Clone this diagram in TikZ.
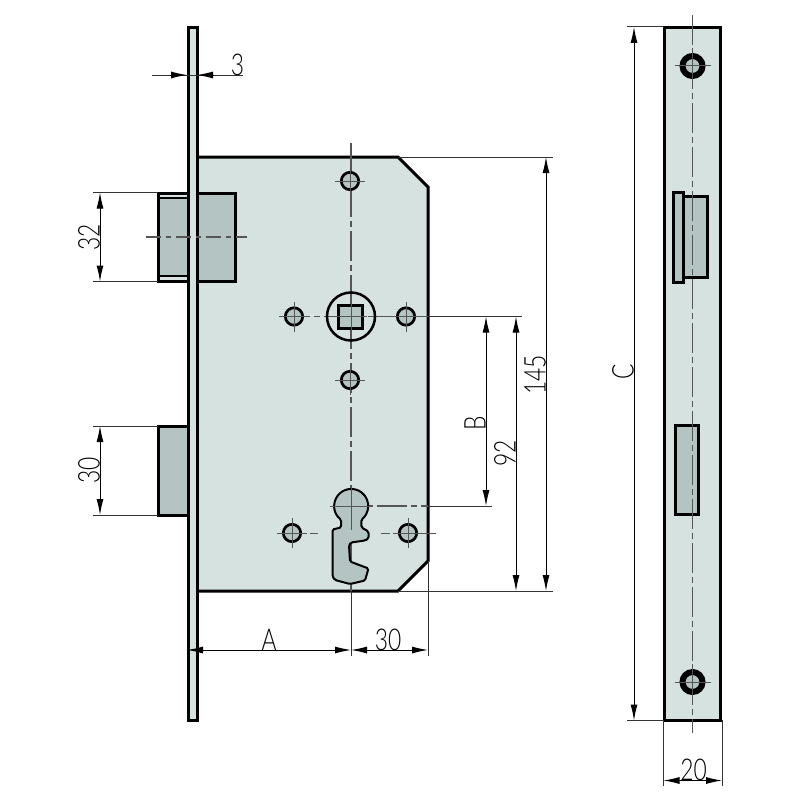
\documentclass[tikz,border=0pt]{standalone}
\usepackage{fontspec}
\setmainfont{Lato Light}
\usetikzlibrary{arrows.meta, positioning, calc}

\definecolor{platefill}{HTML}{D6E2E0}
\definecolor{boltfill}{HTML}{B3C4C3}
\definecolor{axisgrey}{HTML}{555555}

\tikzset{
  outline/.style={draw=black, line width=3pt, line join=miter},
  holeoutline/.style={draw=black, line width=2.7pt, fill=boltfill},
  axis/.style={draw=axisgrey, line width=1.2pt, dash pattern=on 30pt off 4pt on 6pt off 4pt},
  shortaxis/.style={draw=axisgrey, line width=1.2pt, dash pattern=on 15pt off 5pt on 5pt off 5pt},
  tick/.style={draw=axisgrey, line width=1pt},
  extline/.style={draw=black!80, line width=1pt},
  dimline/.style={draw=black, line width=1pt, {Latex[length=16pt,width=7pt]}-{Latex[length=16pt,width=7pt]}},
  dimtip/.style={draw=black, line width=1pt, -{Latex[length=16pt,width=7pt]}},
  dimlabel/.style={font=\fontsize{30}{30}\selectfont, inner sep=0pt, xscale=0.76},
  dimlabelup/.style={font=\fontsize{30}{30}\selectfont, inner sep=0pt, rotate=90, xscale=0.76}
}

\begin{document}
\begin{tikzpicture}[x=1pt, y=-1pt]
  \useasboundingbox (0,0) rectangle (800,800);

  % Lock case
  \fill[platefill] (197,157) -- (398,157) -- (428,187) -- (428,561) -- (398,591) -- (197,591) -- cycle;
  \draw[outline] (197,157) -- (398,157) -- (428,187) -- (428,561) -- (398,591) -- (197,591);

  % Latch and bolt
  \draw[outline, fill=boltfill] (158,193) rectangle (235,281);
  \draw[line width=2pt, fill=platefill] (158,193) rectangle (188,198);
  \draw[line width=2pt, fill=platefill] (158,276) rectangle (188,281);
  \draw[outline] (158,193) rectangle (235,281);
  \draw[outline, fill=boltfill] (158,426) rectangle (188,515);

  % Faceplate, side
  \draw[outline, fill=platefill] (188,28) rectangle (197,720);

  % Axes
  \draw[shortaxis] (146,237) -- (247,237);
  \draw[axis] (351,143) -- (351,591);
  \draw[axis] (280,316.5) -- (428,316.5);
  \draw[axis] (333,506) -- (428,506);

  % Holes
  \foreach \hx/\hy in {350/181, 294/316.5, 406/316.5, 350/380, 292/533, 408/533} {
    \draw[holeoutline] (\hx,\hy) circle (8.7);
    \draw[tick] (\hx-15,\hy) -- (\hx+15,\hy);
    \draw[tick] (\hx,\hy-15) -- (\hx,\hy+15);
  }
  \draw[tick] (310,533) -- (318,533);
  \draw[tick] (381,533) -- (390,533);
  \draw[tick] (423,533) -- (436,533);

  % Spindle
  \draw[line width=2.5pt] (351,316.5) circle (24);
  \draw[outline, fill=boltfill] (338.5,305) rectangle (362,328.5);
  \draw[tick] (335,316.5) -- (367,316.5);
  \draw[tick] (351,300) -- (351,333);

  % Keyhole
  \draw[line width=2pt, fill=boltfill, rounded corners=1.5pt]
    (341,519.5) arc[start angle=127, end angle=413, radius=17]
    -- (361.5,527.5) -- (368.5,531.5) -- (368.5,538.5) -- (365,540.5) -- (351,542.5)
    -- (349,545) -- (350,561.5) -- (368.5,568.5) -- (365,580.5) -- (350,584) -- (335,580)
    -- (332.5,576.5) -- (332.5,529.5) -- (341,527.5) -- cycle;
  \draw[tick] (330,506) -- (372,506);
  \draw[tick] (351,485) -- (351,530);

  % Dimension: 3
  \draw[extline] (152,75) -- (214,75);
  \draw[extline] (197,75) -- (243,75);
  \draw[dimtip] (170,75) -- (187,75);
  \draw[dimtip] (214,75) -- (197,75);
  \node[dimlabel] (plateThick) at (237.5,65) {3};

  % Dimensions: 32 and 30
  \draw[extline] (93,192.5) -- (158,192.5);
  \draw[extline] (93,281.5) -- (158,281.5);
  \draw[dimline] (100,192.5) -- (100,281.5);
  \node[dimlabelup] (latchHeight) at (89,237) {32};
  \draw[extline] (93,426) -- (158,426);
  \draw[extline] (93,515) -- (158,515);
  \draw[dimline] (100,426) -- (100,515);
  \node[dimlabelup] (boltHeight) at (89,470) {30};

  % Dimensions: B, 92, 145
  \draw[extline] (428,316.5) -- (522,316.5);
  \draw[extline] (428,506) -- (492,506);
  \draw[extline] (398,157) -- (553,157);
  \draw[extline] (398,591) -- (553,591);
  \draw[dimline] (486,316.5) -- (486,506);
  \node[dimlabelup] (distB) at (475,423.5) {B};
  \draw[dimline] (516,316.5) -- (516,591);
  \node[dimlabelup] (dist92) at (505,453) {92};
  \draw[dimline] (546,157) -- (546,591);
  \node[dimlabelup] (caseHeight) at (535,375) {145};

  % Dimensions: A, 30
  \draw[extline] (351,591) -- (351,656);
  \draw[extline] (428,561) -- (428,656);
  \draw[dimline] (187,650) -- (351,650);
  \node[dimlabel] (backset) at (269,640) {A};
  \draw[dimline] (351,650) -- (428,650);
  \node[dimlabel] (axisOffset) at (388,640) {30};

  % Faceplate, front
  \draw[outline, fill=platefill] (664.2,28) rectangle (720.8,720);
  \draw[outline, fill=boltfill] (683,196) rectangle (707,277);
  \draw[outline, fill=boltfill] (673.5,192) rectangle (683,282);
  \draw[outline, fill=boltfill] (675,425.5) rectangle (698.5,514.5);
  \draw[axis] (692.5,15) -- (692.5,733);
  \foreach \hy in {66,682} {
    \draw[line width=6pt, fill=boltfill] (692.5,\hy) circle (10);
    \draw[tick] (674.5,\hy) -- (710.5,\hy);
    \draw[tick] (692.5,\hy-18) -- (692.5,\hy+18);
  }

  % Dimensions: C, 20
  \draw[extline] (627,27) -- (663,27);
  \draw[extline] (627,720.5) -- (663,720.5);
  \draw[dimline] (634,27) -- (634,720.5);
  \node[dimlabelup] (plateLength) at (623,372) {C};
  \draw[extline] (663.5,720) -- (663.5,786);
  \draw[extline] (722,720) -- (722,786);
  \draw[dimline] (663.5,780.5) -- (722,780.5);
  \node[dimlabel] (plateWidth) at (693.5,770) {20};
\end{tikzpicture}
\end{document}
